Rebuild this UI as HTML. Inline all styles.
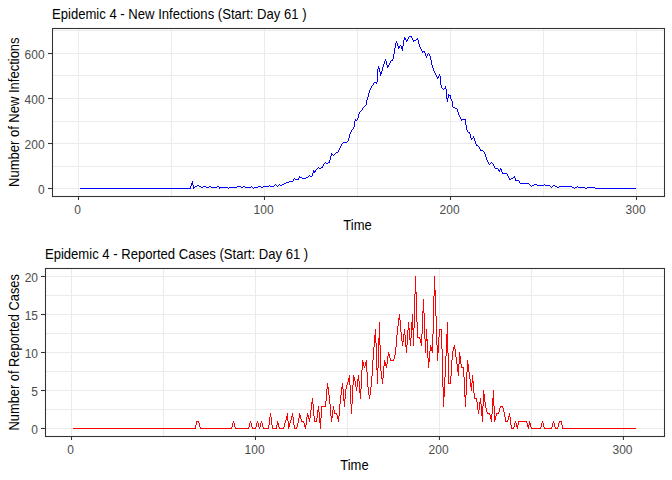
<!DOCTYPE html>
<html><head><meta charset="utf-8"><style>
html,body{margin:0;padding:0;background:#fff;}
svg{display:block;}
</style></head><body>
<svg width="672" height="480" viewBox="0 0 672 480">
<rect width="672" height="480" fill="#fff"/>
<g stroke="#EBEBEB" stroke-width="1" fill="none">
<line x1="53" x2="664" y1="30.5" y2="30.5"/>
<line x1="53" x2="664" y1="75.5" y2="75.5"/>
<line x1="53" x2="664" y1="121.5" y2="121.5"/>
<line x1="53" x2="664" y1="166.5" y2="166.5"/>
<line x1="53" x2="664" y1="53.5" y2="53.5"/>
<line x1="53" x2="664" y1="98.5" y2="98.5"/>
<line x1="53" x2="664" y1="143.5" y2="143.5"/>
<line x1="53" x2="664" y1="188.5" y2="188.5"/>
<line y1="29" y2="196" x1="78.5" x2="78.5"/>
<line y1="29" y2="196" x1="171.5" x2="171.5"/>
<line y1="29" y2="196" x1="264.5" x2="264.5"/>
<line y1="29" y2="196" x1="357.5" x2="357.5"/>
<line y1="29" y2="196" x1="450.5" x2="450.5"/>
<line y1="29" y2="196" x1="543.5" x2="543.5"/>
<line y1="29" y2="196" x1="636.5" x2="636.5"/>
<line x1="46" x2="664" y1="276.5" y2="276.5"/>
<line x1="46" x2="664" y1="295.5" y2="295.5"/>
<line x1="46" x2="664" y1="314.5" y2="314.5"/>
<line x1="46" x2="664" y1="333.5" y2="333.5"/>
<line x1="46" x2="664" y1="352.5" y2="352.5"/>
<line x1="46" x2="664" y1="371.5" y2="371.5"/>
<line x1="46" x2="664" y1="390.5" y2="390.5"/>
<line x1="46" x2="664" y1="409.5" y2="409.5"/>
<line x1="46" x2="664" y1="428.5" y2="428.5"/>
<line y1="269" y2="436" x1="71.5" x2="71.5"/>
<line y1="269" y2="436" x1="163.5" x2="163.5"/>
<line y1="269" y2="436" x1="255.5" x2="255.5"/>
<line y1="269" y2="436" x1="347.5" x2="347.5"/>
<line y1="269" y2="436" x1="439.5" x2="439.5"/>
<line y1="269" y2="436" x1="531.5" x2="531.5"/>
<line y1="269" y2="436" x1="623.5" x2="623.5"/>
</g>
<path fill="#0000FF" shape-rendering="crispEdges" d="M80 188h1v1h-1zM81 188h1v1h-1zM82 188h1v1h-1zM83 188h1v1h-1zM84 188h1v1h-1zM85 188h1v1h-1zM86 188h1v1h-1zM87 188h1v1h-1zM88 188h1v1h-1zM89 188h1v1h-1zM90 188h1v1h-1zM91 188h1v1h-1zM92 188h1v1h-1zM93 188h1v1h-1zM94 188h1v1h-1zM95 188h1v1h-1zM96 188h1v1h-1zM97 188h1v1h-1zM98 188h1v1h-1zM99 188h1v1h-1zM100 188h1v1h-1zM101 188h1v1h-1zM102 188h1v1h-1zM103 188h1v1h-1zM104 188h1v1h-1zM105 188h1v1h-1zM106 188h1v1h-1zM107 188h1v1h-1zM108 188h1v1h-1zM109 188h1v1h-1zM110 188h1v1h-1zM111 188h1v1h-1zM112 188h1v1h-1zM113 188h1v1h-1zM114 188h1v1h-1zM115 188h1v1h-1zM116 188h1v1h-1zM117 188h1v1h-1zM118 188h1v1h-1zM119 188h1v1h-1zM120 188h1v1h-1zM121 188h1v1h-1zM122 188h1v1h-1zM123 188h1v1h-1zM124 188h1v1h-1zM125 188h1v1h-1zM126 188h1v1h-1zM127 188h1v1h-1zM128 188h1v1h-1zM129 188h1v1h-1zM130 188h1v1h-1zM131 188h1v1h-1zM132 188h1v1h-1zM133 188h1v1h-1zM134 188h1v1h-1zM135 188h1v1h-1zM136 188h1v1h-1zM137 188h1v1h-1zM138 188h1v1h-1zM139 188h1v1h-1zM140 188h1v1h-1zM141 188h1v1h-1zM142 188h1v1h-1zM143 188h1v1h-1zM144 188h1v1h-1zM145 188h1v1h-1zM146 188h1v1h-1zM147 188h1v1h-1zM148 188h1v1h-1zM149 188h1v1h-1zM150 188h1v1h-1zM151 188h1v1h-1zM152 188h1v1h-1zM153 188h1v1h-1zM154 188h1v1h-1zM155 188h1v1h-1zM156 188h1v1h-1zM157 188h1v1h-1zM158 188h1v1h-1zM159 188h1v1h-1zM160 188h1v1h-1zM161 188h1v1h-1zM162 188h1v1h-1zM163 188h1v1h-1zM164 188h1v1h-1zM165 188h1v1h-1zM166 188h1v1h-1zM167 188h1v1h-1zM168 188h1v1h-1zM169 188h1v1h-1zM170 188h1v1h-1zM171 188h1v1h-1zM172 188h1v1h-1zM173 188h1v1h-1zM174 188h1v1h-1zM175 188h1v1h-1zM176 188h1v1h-1zM177 188h1v1h-1zM178 188h1v1h-1zM179 188h1v1h-1zM180 188h1v1h-1zM181 188h1v1h-1zM182 188h1v1h-1zM183 188h1v1h-1zM184 188h1v1h-1zM185 188h1v1h-1zM186 188h1v1h-1zM187 188h1v1h-1zM188 188h1v1h-1zM189 188h1v1h-1zM190 186h1v3h-1zM191 183h1v3h-1zM192 181h1v4h-1zM193 185h1v4h-1zM194 187h1v1h-1zM195 186h1v1h-1zM196 186h1v1h-1zM197 185h1v1h-1zM198 185h1v1h-1zM199 186h1v1h-1zM200 186h1v1h-1zM201 187h1v1h-1zM202 187h1v1h-1zM203 186h1v1h-1zM204 186h1v1h-1zM205 186h1v1h-1zM206 187h1v1h-1zM207 187h1v1h-1zM208 187h1v1h-1zM209 186h1v1h-1zM210 186h1v1h-1zM211 187h1v1h-1zM212 187h1v1h-1zM213 187h1v1h-1zM214 187h1v1h-1zM215 187h1v1h-1zM216 187h1v1h-1zM217 186h1v1h-1zM218 186h1v1h-1zM219 187h1v2h-1zM220 187h1v1h-1zM221 187h1v1h-1zM222 187h1v1h-1zM223 187h1v1h-1zM224 187h1v1h-1zM225 187h1v1h-1zM226 187h1v1h-1zM227 187h1v1h-1zM228 188h1v1h-1zM229 187h1v1h-1zM230 187h1v1h-1zM231 187h1v1h-1zM232 187h1v1h-1zM233 187h1v1h-1zM234 187h1v1h-1zM235 187h1v1h-1zM236 187h1v1h-1zM237 186h1v1h-1zM238 186h1v1h-1zM239 186h1v1h-1zM240 186h1v1h-1zM241 187h1v1h-1zM242 187h1v1h-1zM243 186h1v1h-1zM244 186h1v1h-1zM245 187h1v1h-1zM246 187h1v1h-1zM247 187h1v1h-1zM248 187h1v1h-1zM249 187h1v1h-1zM250 187h1v1h-1zM251 186h1v1h-1zM252 187h1v1h-1zM253 188h1v1h-1zM254 187h1v1h-1zM255 187h1v1h-1zM256 187h1v1h-1zM257 187h1v1h-1zM258 186h1v1h-1zM259 186h1v1h-1zM260 186h1v1h-1zM261 187h1v1h-1zM262 187h1v1h-1zM263 186h1v1h-1zM264 186h1v1h-1zM265 186h1v1h-1zM266 186h1v1h-1zM267 186h1v1h-1zM268 186h1v1h-1zM269 185h1v1h-1zM270 186h1v1h-1zM271 186h1v1h-1zM272 186h1v1h-1zM273 186h1v1h-1zM274 185h1v1h-1zM275 184h1v1h-1zM276 185h1v1h-1zM277 186h1v1h-1zM278 185h1v1h-1zM279 184h1v1h-1zM280 185h1v1h-1zM281 185h1v1h-1zM282 184h1v1h-1zM283 184h1v1h-1zM284 183h1v1h-1zM285 183h1v1h-1zM286 182h1v1h-1zM287 182h1v1h-1zM288 182h1v1h-1zM289 181h1v1h-1zM290 181h1v1h-1zM291 181h1v1h-1zM292 181h1v1h-1zM293 179h1v2h-1zM294 178h1v1h-1zM295 179h1v1h-1zM296 179h1v1h-1zM297 179h1v1h-1zM298 178h1v2h-1zM299 176h1v2h-1zM300 177h1v1h-1zM301 177h1v1h-1zM302 178h1v1h-1zM303 178h1v1h-1zM304 178h1v1h-1zM305 178h1v1h-1zM306 177h1v1h-1zM307 177h1v1h-1zM308 176h1v1h-1zM309 175h1v1h-1zM310 176h1v1h-1zM311 176h1v1h-1zM312 173h1v3h-1zM313 170h1v3h-1zM314 171h1v2h-1zM315 170h1v2h-1zM316 169h1v1h-1zM317 168h1v1h-1zM318 167h1v1h-1zM319 168h1v1h-1zM320 168h1v1h-1zM321 167h1v1h-1zM322 166h1v2h-1zM323 164h1v2h-1zM324 163h1v1h-1zM325 162h1v1h-1zM326 163h1v1h-1zM327 163h1v1h-1zM328 162h1v1h-1zM329 160h1v3h-1zM330 156h1v4h-1zM331 153h1v3h-1zM332 154h1v1h-1zM333 155h1v1h-1zM334 154h1v1h-1zM335 153h1v1h-1zM336 152h1v1h-1zM337 152h1v1h-1zM338 150h1v2h-1zM339 148h1v2h-1zM340 146h1v2h-1zM341 144h1v2h-1zM342 143h1v1h-1zM343 142h1v1h-1zM344 142h1v1h-1zM345 142h1v1h-1zM346 142h1v1h-1zM347 141h1v1h-1zM348 138h1v3h-1zM349 134h1v4h-1zM350 132h1v2h-1zM351 130h1v2h-1zM352 129h1v1h-1zM353 127h1v2h-1zM354 121h1v6h-1zM355 119h1v2h-1zM356 120h1v1h-1zM357 118h1v2h-1zM358 114h1v4h-1zM359 112h1v2h-1zM360 111h1v1h-1zM361 110h1v1h-1zM362 108h1v2h-1zM363 107h1v1h-1zM364 106h1v1h-1zM365 105h1v1h-1zM366 100h1v5h-1zM367 97h1v3h-1zM368 93h1v4h-1zM369 90h1v3h-1zM370 88h1v2h-1zM371 86h1v2h-1zM372 85h1v1h-1zM373 83h1v2h-1zM374 82h1v1h-1zM375 82h1v1h-1zM376 82h1v2h-1zM377 69h1v13h-1zM378 66h1v3h-1zM379 68h1v4h-1zM380 72h1v4h-1zM381 71h1v3h-1zM382 67h1v4h-1zM383 64h1v3h-1zM384 61h1v3h-1zM385 59h1v2h-1zM386 61h1v4h-1zM387 65h1v3h-1zM388 65h1v2h-1zM389 63h1v2h-1zM390 61h1v2h-1zM391 60h1v1h-1zM392 59h1v2h-1zM393 54h1v5h-1zM394 48h1v6h-1zM395 43h1v5h-1zM396 41h1v2h-1zM397 43h1v3h-1zM398 46h1v3h-1zM399 46h1v2h-1zM400 45h1v1h-1zM401 46h1v3h-1zM402 46h1v5h-1zM403 40h1v6h-1zM404 37h1v3h-1zM405 38h1v2h-1zM406 40h1v2h-1zM407 39h1v2h-1zM408 37h1v2h-1zM409 36h1v1h-1zM410 36h1v1h-1zM411 36h1v2h-1zM412 38h1v2h-1zM413 40h1v2h-1zM414 40h1v1h-1zM415 40h1v1h-1zM416 39h1v1h-1zM417 38h1v2h-1zM418 40h1v4h-1zM419 44h1v3h-1zM420 47h1v2h-1zM421 49h1v2h-1zM422 51h1v2h-1zM423 51h1v1h-1zM424 51h1v2h-1zM425 53h1v3h-1zM426 56h1v2h-1zM427 54h1v2h-1zM428 53h1v1h-1zM429 54h1v2h-1zM430 56h1v4h-1zM431 60h1v5h-1zM432 65h1v3h-1zM433 68h1v3h-1zM434 71h1v2h-1zM435 73h1v2h-1zM436 75h1v2h-1zM437 77h1v2h-1zM438 76h1v2h-1zM439 74h1v2h-1zM440 76h1v9h-1zM441 85h1v3h-1zM442 88h1v1h-1zM443 89h1v1h-1zM444 88h1v1h-1zM445 86h1v3h-1zM446 89h1v10h-1zM447 98h1v4h-1zM448 94h1v4h-1zM449 95h1v1h-1zM450 95h1v4h-1zM451 99h1v2h-1zM452 101h1v6h-1zM453 107h1v1h-1zM454 107h1v1h-1zM455 108h1v1h-1zM456 108h1v1h-1zM457 109h1v3h-1zM458 112h1v3h-1zM459 115h1v2h-1zM460 117h1v2h-1zM461 119h1v2h-1zM462 119h1v1h-1zM463 119h1v1h-1zM464 119h1v1h-1zM465 119h1v6h-1zM466 125h1v5h-1zM467 130h1v2h-1zM468 132h1v1h-1zM469 132h1v2h-1zM470 134h1v4h-1zM471 138h1v2h-1zM472 138h1v1h-1zM473 136h1v2h-1zM474 138h1v3h-1zM475 141h1v3h-1zM476 144h1v2h-1zM477 145h1v1h-1zM478 146h1v1h-1zM479 147h1v2h-1zM480 149h1v2h-1zM481 150h1v1h-1zM482 150h1v1h-1zM483 151h1v1h-1zM484 152h1v2h-1zM485 154h1v3h-1zM486 157h1v3h-1zM487 160h1v2h-1zM488 162h1v2h-1zM489 164h1v1h-1zM490 163h1v1h-1zM491 162h1v1h-1zM492 163h1v1h-1zM493 164h1v2h-1zM494 166h1v2h-1zM495 168h1v1h-1zM496 168h1v1h-1zM497 168h1v1h-1zM498 169h1v2h-1zM499 170h1v2h-1zM500 168h1v2h-1zM501 169h1v3h-1zM502 172h1v2h-1zM503 173h1v1h-1zM504 173h1v1h-1zM505 173h1v1h-1zM506 173h1v1h-1zM507 174h1v2h-1zM508 176h1v2h-1zM509 178h1v2h-1zM510 179h1v1h-1zM511 178h1v1h-1zM512 178h1v1h-1zM513 177h1v1h-1zM514 176h1v2h-1zM515 178h1v3h-1zM516 180h1v1h-1zM517 180h1v1h-1zM518 180h1v1h-1zM519 181h1v2h-1zM520 183h1v1h-1zM521 183h1v1h-1zM522 183h1v1h-1zM523 183h1v1h-1zM524 183h1v1h-1zM525 183h1v1h-1zM526 183h1v1h-1zM527 183h1v1h-1zM528 183h1v1h-1zM529 184h1v1h-1zM530 185h1v1h-1zM531 186h1v1h-1zM532 185h1v1h-1zM533 185h1v1h-1zM534 184h1v1h-1zM535 184h1v1h-1zM536 184h1v1h-1zM537 185h1v1h-1zM538 185h1v1h-1zM539 185h1v1h-1zM540 185h1v1h-1zM541 185h1v1h-1zM542 185h1v1h-1zM543 185h1v1h-1zM544 184h1v1h-1zM545 185h1v1h-1zM546 185h1v1h-1zM547 185h1v1h-1zM548 185h1v1h-1zM549 185h1v1h-1zM550 186h1v1h-1zM551 187h1v1h-1zM552 186h1v1h-1zM553 185h1v1h-1zM554 185h1v1h-1zM555 186h1v1h-1zM556 186h1v1h-1zM557 187h1v1h-1zM558 187h1v1h-1zM559 186h1v1h-1zM560 186h1v1h-1zM561 186h1v1h-1zM562 186h1v1h-1zM563 186h1v1h-1zM564 186h1v1h-1zM565 186h1v1h-1zM566 186h1v1h-1zM567 186h1v1h-1zM568 186h1v1h-1zM569 186h1v1h-1zM570 186h1v1h-1zM571 186h1v1h-1zM572 187h1v1h-1zM573 187h1v1h-1zM574 188h1v1h-1zM575 187h1v1h-1zM576 187h1v1h-1zM577 186h1v1h-1zM578 187h1v1h-1zM579 187h1v1h-1zM580 187h1v1h-1zM581 187h1v1h-1zM582 187h1v1h-1zM583 187h1v1h-1zM584 187h1v1h-1zM585 188h1v1h-1zM586 188h1v1h-1zM587 187h1v1h-1zM588 187h1v1h-1zM589 187h1v1h-1zM590 187h1v1h-1zM591 187h1v1h-1zM592 187h1v1h-1zM593 187h1v1h-1zM594 187h1v1h-1zM595 188h1v1h-1zM596 188h1v1h-1zM597 188h1v1h-1zM598 188h1v1h-1zM599 188h1v1h-1zM600 188h1v1h-1zM601 188h1v1h-1zM602 188h1v1h-1zM603 188h1v1h-1zM604 188h1v1h-1zM605 188h1v1h-1zM606 188h1v1h-1zM607 188h1v1h-1zM608 188h1v1h-1zM609 188h1v1h-1zM610 188h1v1h-1zM611 188h1v1h-1zM612 188h1v1h-1zM613 188h1v1h-1zM614 188h1v1h-1zM615 188h1v1h-1zM616 188h1v1h-1zM617 188h1v1h-1zM618 188h1v1h-1zM619 188h1v1h-1zM620 188h1v1h-1zM621 188h1v1h-1zM622 188h1v1h-1zM623 188h1v1h-1zM624 188h1v1h-1zM625 188h1v1h-1zM626 188h1v1h-1zM627 188h1v1h-1zM628 188h1v1h-1zM629 188h1v1h-1zM630 188h1v1h-1zM631 188h1v1h-1zM632 188h1v1h-1zM633 188h1v1h-1zM634 188h1v1h-1zM635 188h1v1h-1z"/>
<path fill="#FF0000" shape-rendering="crispEdges" d="M73 428h1v1h-1zM74 428h1v1h-1zM75 428h1v1h-1zM76 428h1v1h-1zM77 428h1v1h-1zM78 428h1v1h-1zM79 428h1v1h-1zM80 428h1v1h-1zM81 428h1v1h-1zM82 428h1v1h-1zM83 428h1v1h-1zM84 428h1v1h-1zM85 428h1v1h-1zM86 428h1v1h-1zM87 428h1v1h-1zM88 428h1v1h-1zM89 428h1v1h-1zM90 428h1v1h-1zM91 428h1v1h-1zM92 428h1v1h-1zM93 428h1v1h-1zM94 428h1v1h-1zM95 428h1v1h-1zM96 428h1v1h-1zM97 428h1v1h-1zM98 428h1v1h-1zM99 428h1v1h-1zM100 428h1v1h-1zM101 428h1v1h-1zM102 428h1v1h-1zM103 428h1v1h-1zM104 428h1v1h-1zM105 428h1v1h-1zM106 428h1v1h-1zM107 428h1v1h-1zM108 428h1v1h-1zM109 428h1v1h-1zM110 428h1v1h-1zM111 428h1v1h-1zM112 428h1v1h-1zM113 428h1v1h-1zM114 428h1v1h-1zM115 428h1v1h-1zM116 428h1v1h-1zM117 428h1v1h-1zM118 428h1v1h-1zM119 428h1v1h-1zM120 428h1v1h-1zM121 428h1v1h-1zM122 428h1v1h-1zM123 428h1v1h-1zM124 428h1v1h-1zM125 428h1v1h-1zM126 428h1v1h-1zM127 428h1v1h-1zM128 428h1v1h-1zM129 428h1v1h-1zM130 428h1v1h-1zM131 428h1v1h-1zM132 428h1v1h-1zM133 428h1v1h-1zM134 428h1v1h-1zM135 428h1v1h-1zM136 428h1v1h-1zM137 428h1v1h-1zM138 428h1v1h-1zM139 428h1v1h-1zM140 428h1v1h-1zM141 428h1v1h-1zM142 428h1v1h-1zM143 428h1v1h-1zM144 428h1v1h-1zM145 428h1v1h-1zM146 428h1v1h-1zM147 428h1v1h-1zM148 428h1v1h-1zM149 428h1v1h-1zM150 428h1v1h-1zM151 428h1v1h-1zM152 428h1v1h-1zM153 428h1v1h-1zM154 428h1v1h-1zM155 428h1v1h-1zM156 428h1v1h-1zM157 428h1v1h-1zM158 428h1v1h-1zM159 428h1v1h-1zM160 428h1v1h-1zM161 428h1v1h-1zM162 428h1v1h-1zM163 428h1v1h-1zM164 428h1v1h-1zM165 428h1v1h-1zM166 428h1v1h-1zM167 428h1v1h-1zM168 428h1v1h-1zM169 428h1v1h-1zM170 428h1v1h-1zM171 428h1v1h-1zM172 428h1v1h-1zM173 428h1v1h-1zM174 428h1v1h-1zM175 428h1v1h-1zM176 428h1v1h-1zM177 428h1v1h-1zM178 428h1v1h-1zM179 428h1v1h-1zM180 428h1v1h-1zM181 428h1v1h-1zM182 428h1v1h-1zM183 428h1v1h-1zM184 428h1v1h-1zM185 428h1v1h-1zM186 428h1v1h-1zM187 428h1v1h-1zM188 428h1v1h-1zM189 428h1v1h-1zM190 428h1v1h-1zM191 428h1v1h-1zM192 428h1v1h-1zM193 428h1v1h-1zM194 428h1v1h-1zM195 425h1v4h-1zM196 421h1v4h-1zM197 421h1v1h-1zM198 421h1v2h-1zM199 423h1v4h-1zM200 427h1v2h-1zM201 428h1v1h-1zM202 428h1v1h-1zM203 428h1v1h-1zM204 428h1v1h-1zM205 428h1v1h-1zM206 428h1v1h-1zM207 428h1v1h-1zM208 428h1v1h-1zM209 428h1v1h-1zM210 428h1v1h-1zM211 428h1v1h-1zM212 428h1v1h-1zM213 428h1v1h-1zM214 428h1v1h-1zM215 428h1v1h-1zM216 428h1v1h-1zM217 428h1v1h-1zM218 428h1v1h-1zM219 428h1v1h-1zM220 428h1v1h-1zM221 428h1v1h-1zM222 428h1v1h-1zM223 428h1v1h-1zM224 428h1v1h-1zM225 428h1v1h-1zM226 428h1v1h-1zM227 428h1v1h-1zM228 428h1v1h-1zM229 428h1v1h-1zM230 428h1v1h-1zM231 427h1v2h-1zM232 423h1v4h-1zM233 421h1v2h-1zM234 423h1v4h-1zM235 427h1v2h-1zM236 428h1v1h-1zM237 428h1v1h-1zM238 428h1v1h-1zM239 428h1v1h-1zM240 428h1v1h-1zM241 428h1v1h-1zM242 428h1v1h-1zM243 428h1v1h-1zM244 428h1v1h-1zM245 428h1v1h-1zM246 428h1v1h-1zM247 428h1v1h-1zM248 427h1v2h-1zM249 423h1v4h-1zM250 421h1v2h-1zM251 423h1v4h-1zM252 427h1v2h-1zM253 428h1v1h-1zM254 428h1v1h-1zM255 427h1v2h-1zM256 423h1v4h-1zM257 421h1v2h-1zM258 423h1v4h-1zM259 427h1v2h-1zM260 423h1v4h-1zM261 421h1v2h-1zM262 423h1v4h-1zM263 427h1v2h-1zM264 428h1v1h-1zM265 428h1v1h-1zM266 428h1v1h-1zM267 428h1v1h-1zM268 425h1v4h-1zM269 417h1v8h-1zM270 413h1v4h-1zM271 417h1v8h-1zM272 425h1v4h-1zM273 428h1v1h-1zM274 428h1v1h-1zM275 428h1v1h-1zM276 425h1v4h-1zM277 421h1v4h-1zM278 423h1v4h-1zM279 427h1v2h-1zM280 428h1v1h-1zM281 428h1v1h-1zM282 428h1v1h-1zM283 427h1v2h-1zM284 423h1v4h-1zM285 420h1v3h-1zM286 416h1v4h-1zM287 413h1v8h-1zM288 421h1v8h-1zM289 423h1v4h-1zM290 420h1v3h-1zM291 416h1v4h-1zM292 413h1v4h-1zM293 417h1v8h-1zM294 425h1v4h-1zM295 428h1v1h-1zM296 427h1v2h-1zM297 423h1v4h-1zM298 418h1v5h-1zM299 413h1v5h-1zM300 415h1v4h-1zM301 419h1v3h-1zM302 421h1v1h-1zM303 421h1v2h-1zM304 423h1v4h-1zM305 425h1v4h-1zM306 417h1v8h-1zM307 413h1v4h-1zM308 415h1v4h-1zM309 418h1v4h-1zM310 410h1v8h-1zM311 402h1v8h-1zM312 398h1v6h-1zM313 404h1v12h-1zM314 416h1v6h-1zM315 421h1v1h-1zM316 418h1v4h-1zM317 410h1v8h-1zM318 406h1v6h-1zM319 412h1v11h-1zM320 418h1v11h-1zM321 406h1v12h-1zM322 406h1v1h-1zM323 406h1v1h-1zM324 406h1v1h-1zM325 401h1v6h-1zM326 389h1v12h-1zM327 383h1v6h-1zM328 387h1v8h-1zM329 395h1v9h-1zM330 404h1v12h-1zM331 416h1v6h-1zM332 410h1v8h-1zM333 406h1v4h-1zM334 410h1v4h-1zM335 413h1v1h-1zM336 413h1v2h-1zM337 415h1v4h-1zM338 416h1v6h-1zM339 404h1v12h-1zM340 395h1v9h-1zM341 387h1v8h-1zM342 383h1v6h-1zM343 389h1v12h-1zM344 399h1v8h-1zM345 389h1v10h-1zM346 385h1v4h-1zM347 382h1v3h-1zM348 378h1v4h-1zM349 375h1v10h-1zM350 385h1v19h-1zM351 404h1v10h-1zM352 385h1v19h-1zM353 375h1v10h-1zM354 377h1v4h-1zM355 381h1v6h-1zM356 387h1v4h-1zM357 379h1v8h-1zM358 375h1v6h-1zM359 381h1v12h-1zM360 389h1v10h-1zM361 370h1v19h-1zM362 360h1v10h-1zM363 362h1v4h-1zM364 366h1v2h-1zM365 362h1v4h-1zM366 360h1v12h-1zM367 372h1v15h-1zM368 387h1v8h-1zM369 395h1v4h-1zM370 387h1v8h-1zM371 376h1v11h-1zM372 360h1v16h-1zM373 347h1v13h-1zM374 335h1v12h-1zM375 329h1v14h-1zM376 343h1v27h-1zM377 368h1v16h-1zM378 338h1v30h-1zM379 322h1v23h-1zM380 345h1v26h-1zM381 371h1v8h-1zM382 378h1v6h-1zM383 366h1v12h-1zM384 360h1v6h-1zM385 362h1v4h-1zM386 364h1v4h-1zM387 356h1v8h-1zM388 352h1v4h-1zM389 354h1v4h-1zM390 358h1v3h-1zM391 360h1v1h-1zM392 360h1v1h-1zM393 359h1v2h-1zM394 355h1v4h-1zM395 347h1v8h-1zM396 335h1v12h-1zM397 326h1v9h-1zM398 318h1v8h-1zM399 314h1v6h-1zM400 320h1v12h-1zM401 332h1v9h-1zM402 341h1v5h-1zM403 334h1v8h-1zM404 329h1v6h-1zM405 335h1v12h-1zM406 345h1v8h-1zM407 330h1v15h-1zM408 322h1v8h-1zM409 328h1v12h-1zM410 338h1v8h-1zM411 322h1v16h-1zM412 314h1v16h-1zM413 328h1v18h-1zM414 294h1v34h-1zM415 276h1v18h-1zM416 292h1v30h-1zM417 322h1v16h-1zM418 337h1v1h-1zM419 337h1v2h-1zM420 339h1v4h-1zM421 334h1v12h-1zM422 311h1v23h-1zM423 299h1v14h-1zM424 313h1v26h-1zM425 339h1v14h-1zM426 329h1v12h-1zM427 339h1v19h-1zM428 358h1v10h-1zM429 351h1v11h-1zM430 345h1v6h-1zM431 347h1v4h-1zM432 334h1v19h-1zM433 296h1v38h-1zM434 276h1v20h-1zM435 290h1v26h-1zM436 316h1v29h-1zM437 345h1v16h-1zM438 337h1v16h-1zM439 329h1v8h-1zM440 329h1v1h-1zM441 329h1v20h-1zM442 349h1v38h-1zM443 387h1v20h-1zM444 377h1v20h-1zM445 356h1v21h-1zM446 334h1v22h-1zM447 322h1v31h-1zM448 353h1v31h-1zM449 383h1v1h-1zM450 376h1v8h-1zM451 360h1v16h-1zM452 351h1v9h-1zM453 347h1v4h-1zM454 345h1v4h-1zM455 349h1v8h-1zM456 357h1v7h-1zM457 364h1v8h-1zM458 364h1v12h-1zM459 352h1v12h-1zM460 356h1v8h-1zM461 364h1v4h-1zM462 367h1v1h-1zM463 367h1v10h-1zM464 377h1v20h-1zM465 395h1v12h-1zM466 372h1v23h-1zM467 360h1v12h-1zM468 364h1v8h-1zM469 372h1v7h-1zM470 379h1v8h-1zM471 383h1v8h-1zM472 375h1v8h-1zM473 381h1v12h-1zM474 393h1v6h-1zM475 398h1v1h-1zM476 398h1v4h-1zM477 402h1v8h-1zM478 410h1v4h-1zM479 402h1v8h-1zM480 398h1v6h-1zM481 404h1v12h-1zM482 406h1v16h-1zM483 390h1v16h-1zM484 394h1v8h-1zM485 402h1v6h-1zM486 408h1v4h-1zM487 412h1v2h-1zM488 413h1v1h-1zM489 413h1v2h-1zM490 415h1v4h-1zM491 414h1v8h-1zM492 398h1v16h-1zM493 390h1v16h-1zM494 406h1v16h-1zM495 416h1v4h-1zM496 413h1v3h-1zM497 413h1v1h-1zM498 412h1v2h-1zM499 408h1v4h-1zM500 406h1v2h-1zM501 406h1v1h-1zM502 406h1v2h-1zM503 408h1v4h-1zM504 412h1v5h-1zM505 417h1v5h-1zM506 421h1v1h-1zM507 420h1v2h-1zM508 416h1v4h-1zM509 413h1v4h-1zM510 417h1v8h-1zM511 425h1v4h-1zM512 428h1v1h-1zM513 427h1v2h-1zM514 423h1v4h-1zM515 421h1v2h-1zM516 423h1v4h-1zM517 425h1v4h-1zM518 421h1v4h-1zM519 421h1v1h-1zM520 421h1v1h-1zM521 421h1v1h-1zM522 421h1v1h-1zM523 421h1v1h-1zM524 421h1v1h-1zM525 421h1v1h-1zM526 421h1v2h-1zM527 423h1v4h-1zM528 425h1v4h-1zM529 421h1v4h-1zM530 423h1v4h-1zM531 427h1v2h-1zM532 428h1v1h-1zM533 428h1v1h-1zM534 428h1v1h-1zM535 428h1v1h-1zM536 428h1v1h-1zM537 428h1v1h-1zM538 428h1v1h-1zM539 428h1v1h-1zM540 427h1v2h-1zM541 423h1v4h-1zM542 421h1v2h-1zM543 423h1v4h-1zM544 427h1v2h-1zM545 428h1v1h-1zM546 428h1v1h-1zM547 428h1v1h-1zM548 428h1v1h-1zM549 428h1v1h-1zM550 428h1v1h-1zM551 427h1v2h-1zM552 423h1v4h-1zM553 421h1v2h-1zM554 423h1v4h-1zM555 427h1v2h-1zM556 428h1v1h-1zM557 427h1v2h-1zM558 423h1v4h-1zM559 421h1v2h-1zM560 421h1v1h-1zM561 421h1v4h-1zM562 425h1v4h-1zM563 428h1v1h-1zM564 428h1v1h-1zM565 428h1v1h-1zM566 428h1v1h-1zM567 428h1v1h-1zM568 428h1v1h-1zM569 428h1v1h-1zM570 428h1v1h-1zM571 428h1v1h-1zM572 428h1v1h-1zM573 428h1v1h-1zM574 428h1v1h-1zM575 428h1v1h-1zM576 428h1v1h-1zM577 428h1v1h-1zM578 428h1v1h-1zM579 428h1v1h-1zM580 428h1v1h-1zM581 428h1v1h-1zM582 428h1v1h-1zM583 428h1v1h-1zM584 428h1v1h-1zM585 428h1v1h-1zM586 428h1v1h-1zM587 428h1v1h-1zM588 428h1v1h-1zM589 428h1v1h-1zM590 428h1v1h-1zM591 428h1v1h-1zM592 428h1v1h-1zM593 428h1v1h-1zM594 428h1v1h-1zM595 428h1v1h-1zM596 428h1v1h-1zM597 428h1v1h-1zM598 428h1v1h-1zM599 428h1v1h-1zM600 428h1v1h-1zM601 428h1v1h-1zM602 428h1v1h-1zM603 428h1v1h-1zM604 428h1v1h-1zM605 428h1v1h-1zM606 428h1v1h-1zM607 428h1v1h-1zM608 428h1v1h-1zM609 428h1v1h-1zM610 428h1v1h-1zM611 428h1v1h-1zM612 428h1v1h-1zM613 428h1v1h-1zM614 428h1v1h-1zM615 428h1v1h-1zM616 428h1v1h-1zM617 428h1v1h-1zM618 428h1v1h-1zM619 428h1v1h-1zM620 428h1v1h-1zM621 428h1v1h-1zM622 428h1v1h-1zM623 428h1v1h-1zM624 428h1v1h-1zM625 428h1v1h-1zM626 428h1v1h-1zM627 428h1v1h-1zM628 428h1v1h-1zM629 428h1v1h-1zM630 428h1v1h-1zM631 428h1v1h-1zM632 428h1v1h-1zM633 428h1v1h-1zM634 428h1v1h-1zM635 428h1v1h-1z"/>
<rect x="52.5" y="28.5" width="612" height="168" fill="none" stroke="#333333" stroke-width="1.07"/>
<rect x="45.5" y="268.5" width="619" height="168" fill="none" stroke="#333333" stroke-width="1.07"/>
<g stroke="#333333" stroke-width="1.07">
<line x1="48" x2="52.5" y1="188.50" y2="188.50"/>
<line x1="48" x2="52.5" y1="143.50" y2="143.50"/>
<line x1="48" x2="52.5" y1="98.50" y2="98.50"/>
<line x1="48" x2="52.5" y1="53.50" y2="53.50"/>
<line y1="196.5" y2="200" x1="78.50" x2="78.50"/>
<line y1="196.5" y2="200" x1="264.50" x2="264.50"/>
<line y1="196.5" y2="200" x1="450.50" x2="450.50"/>
<line y1="196.5" y2="200" x1="636.50" x2="636.50"/>
<line x1="41" x2="45.5" y1="428.50" y2="428.50"/>
<line x1="41" x2="45.5" y1="390.50" y2="390.50"/>
<line x1="41" x2="45.5" y1="352.50" y2="352.50"/>
<line x1="41" x2="45.5" y1="314.50" y2="314.50"/>
<line x1="41" x2="45.5" y1="276.50" y2="276.50"/>
<line y1="436.5" y2="440" x1="71.50" x2="71.50"/>
<line y1="436.5" y2="440" x1="255.47" x2="255.47"/>
<line y1="436.5" y2="440" x1="439.44" x2="439.44"/>
<line y1="436.5" y2="440" x1="623.41" x2="623.41"/>
</g>
<g font-family="Liberation Sans, sans-serif">
<text transform="translate(52.00,18.80) scale(1,1.06)" font-size="13.1" fill="#000">Epidemic 4 - New Infections (Start: Day 61 )</text>
<text transform="translate(44.90,258.80) scale(1,1.06)" font-size="13.1" fill="#000">Epidemic 4 - Reported Cases (Start: Day 61 )</text>
<text transform="translate(357.50,229.90) scale(1,1.1)" font-size="13.0" text-anchor="middle" fill="#000">Time</text>
<text transform="translate(354.45,469.80) scale(1,1.1)" font-size="13.0" text-anchor="middle" fill="#000">Time</text>
<text transform="translate(18.90,112.15) rotate(-90) scale(1,1.1)" font-size="13.0" text-anchor="middle" fill="#000">Number of New Infections</text>
<text transform="translate(18.90,352.30) rotate(-90) scale(1,1.1)" font-size="12.85" text-anchor="middle" fill="#000">Number of Reported Cases</text>
<text transform="translate(44.60,193.70) scale(1,1.1)" font-size="12.0" text-anchor="end" fill="#4D4D4D">0</text>
<text transform="translate(44.60,148.70) scale(1,1.1)" font-size="12.0" text-anchor="end" fill="#4D4D4D">200</text>
<text transform="translate(44.60,103.70) scale(1,1.1)" font-size="12.0" text-anchor="end" fill="#4D4D4D">400</text>
<text transform="translate(44.60,58.70) scale(1,1.1)" font-size="12.0" text-anchor="end" fill="#4D4D4D">600</text>
<text transform="translate(77.60,213.90) scale(1,1.1)" font-size="12.0" text-anchor="middle" fill="#4D4D4D">0</text>
<text transform="translate(263.60,213.90) scale(1,1.1)" font-size="12.0" text-anchor="middle" fill="#4D4D4D">100</text>
<text transform="translate(449.60,213.90) scale(1,1.1)" font-size="12.0" text-anchor="middle" fill="#4D4D4D">200</text>
<text transform="translate(635.60,213.90) scale(1,1.1)" font-size="12.0" text-anchor="middle" fill="#4D4D4D">300</text>
<text transform="translate(38.00,433.70) scale(1,1.1)" font-size="12.0" text-anchor="end" fill="#4D4D4D">0</text>
<text transform="translate(38.00,395.70) scale(1,1.1)" font-size="12.0" text-anchor="end" fill="#4D4D4D">5</text>
<text transform="translate(38.00,357.70) scale(1,1.1)" font-size="12.0" text-anchor="end" fill="#4D4D4D">10</text>
<text transform="translate(38.00,319.70) scale(1,1.1)" font-size="12.0" text-anchor="end" fill="#4D4D4D">15</text>
<text transform="translate(38.00,281.70) scale(1,1.1)" font-size="12.0" text-anchor="end" fill="#4D4D4D">20</text>
<text transform="translate(70.60,453.90) scale(1,1.1)" font-size="12.0" text-anchor="middle" fill="#4D4D4D">0</text>
<text transform="translate(254.57,453.90) scale(1,1.1)" font-size="12.0" text-anchor="middle" fill="#4D4D4D">100</text>
<text transform="translate(438.54,453.90) scale(1,1.1)" font-size="12.0" text-anchor="middle" fill="#4D4D4D">200</text>
<text transform="translate(622.51,453.90) scale(1,1.1)" font-size="12.0" text-anchor="middle" fill="#4D4D4D">300</text>
</g>
</svg>
</body></html>
